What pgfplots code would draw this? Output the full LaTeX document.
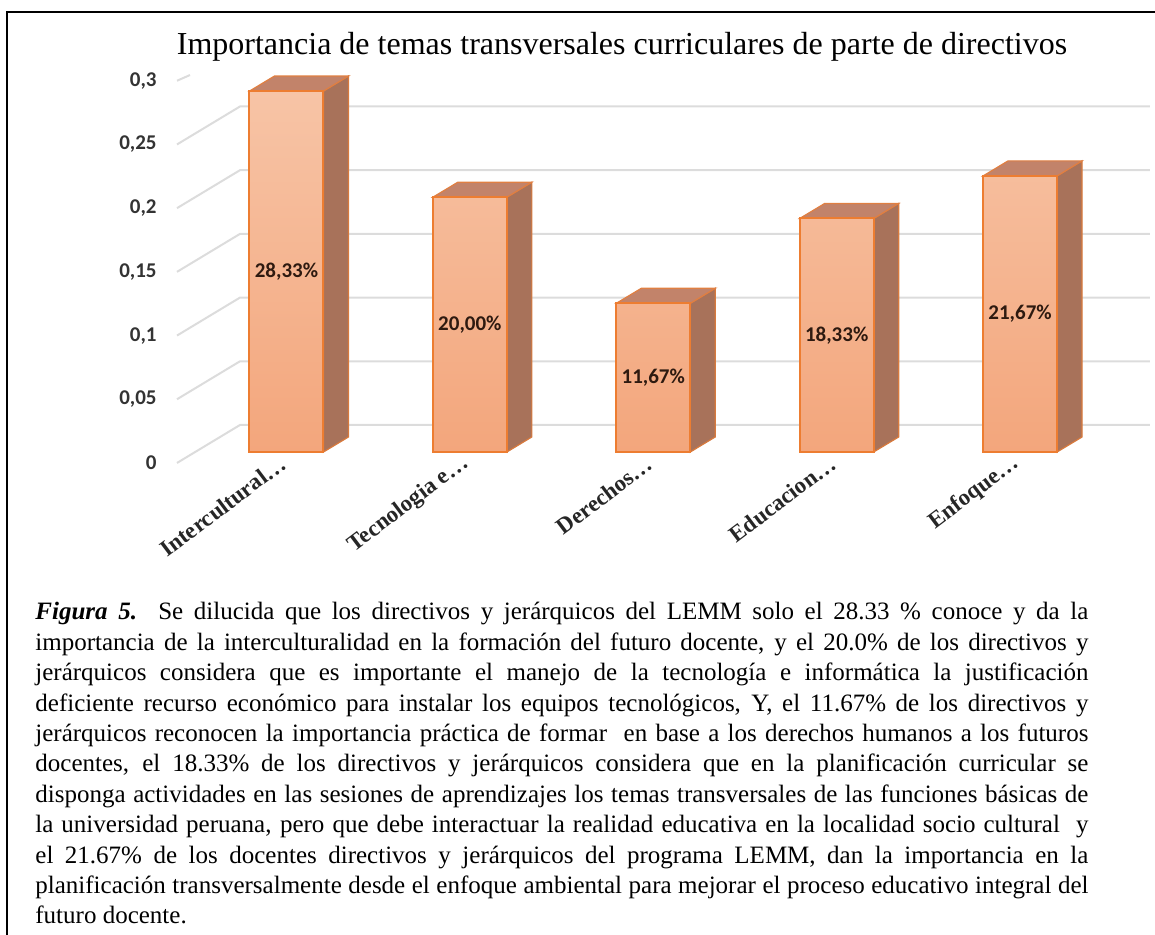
\documentclass[border=0pt]{standalone}
\usepackage{fontspec}
\setmainfont{Liberation Serif}
\newfontfamily\carlito{Carlito}
\usepackage{pgfplots}
\usepackage{pgfplotstable}
\pgfplotsset{compat=1.18}
\definecolor{edge}{HTML}{ED7D31}
\definecolor{fronttop}{HTML}{F7C4A6}
\definecolor{frontbot}{HTML}{F3A67C}
\definecolor{sidec}{HTML}{A8725A}
\definecolor{topc}{HTML}{C2836A}
\definecolor{gridc}{HTML}{DCDCDC}
\definecolor{lblc}{HTML}{2E1A10}

\pgfplotstableread{
x v lbl
0 0.2833 {28,33\%}
1 0.2000 {20,00\%}
2 0.1167 {11,67\%}
3 0.1833 {18,33\%}
4 0.2167 {21,67\%}
}\datatable

\begin{document}
\begin{tikzpicture}
\begin{axis}[
  at={(88.5pt,241.5pt)}, anchor=south west,
  scale only axis, width=486.46pt, height=191.1pt,
  xmin=-0.597, xmax=4.708, ymin=0, ymax=0.3,
  clip=false,
  axis line style={draw=none},
  major tick length=0pt,
  xtick={0,1,2,3,4},
  xticklabels={Intercultural\ldots,Tecnologia e\ldots,Derechos\ldots,Educacion\ldots,Enfoque\ldots},
  xticklabel style={rotate=37, anchor=east, inner sep=0pt, yshift=-2.5pt, xshift=-4pt,
    font=\fontsize{11.5}{13}\selectfont\bfseries, text=black!85},
  ytick={0,0.05,0.1,0.15,0.2,0.25,0.3},
  yticklabels={0,{0,05},{0,1},{0,15},{0,2},{0,25},{0,3}},
  yticklabel style={anchor=east, inner sep=0pt, xshift=-10pt, yshift=-5.5pt,
    font=\carlito\bfseries\fontsize{10.5}{12}\selectfont, text=black!80},
]
% back-wall grid lines
\addplot[gridc, line width=1pt] coordinates {(-0.597,-0.0086) (-0.2535,0.0212) (4.708,0.0212)};
\addplot[gridc, line width=1pt] coordinates {(-0.597,0.0414) (-0.2535,0.0712) (4.708,0.0712)};
\addplot[gridc, line width=1pt] coordinates {(-0.597,0.0914) (-0.2535,0.1212) (4.708,0.1212)};
\addplot[gridc, line width=1pt] coordinates {(-0.597,0.1414) (-0.2535,0.1712) (4.708,0.1712)};
\addplot[gridc, line width=1pt] coordinates {(-0.597,0.1914) (-0.2535,0.2212) (4.708,0.2212)};
\addplot[gridc, line width=1pt] coordinates {(-0.597,0.2414) (-0.2535,0.2712) (4.708,0.2712)};
\addplot[gridc, line width=1pt] coordinates {(-0.597,0.2914) (-0.526,0.2959)};
% side faces
\addplot[fill=sidec, draw=edge!70!sidec, line width=0.6pt] coordinates {(0.2017,0) (0.338,0.0118) (0.338,0.2951) (0.2017,0.2833)} -- cycle;
\addplot[fill=sidec, draw=edge!70!sidec, line width=0.6pt] coordinates {(1.2017,0) (1.338,0.0118) (1.338,0.2118) (1.2017,0.2000)} -- cycle;
\addplot[fill=sidec, draw=edge!70!sidec, line width=0.6pt] coordinates {(2.2017,0) (2.338,0.0118) (2.338,0.1285) (2.2017,0.1167)} -- cycle;
\addplot[fill=sidec, draw=edge!70!sidec, line width=0.6pt] coordinates {(3.2017,0) (3.338,0.0118) (3.338,0.1951) (3.2017,0.1833)} -- cycle;
\addplot[fill=sidec, draw=edge!70!sidec, line width=0.6pt] coordinates {(4.2017,0) (4.338,0.0118) (4.338,0.2285) (4.2017,0.2167)} -- cycle;
% top faces
\addplot[fill=topc, draw=edge!70!topc, line width=0.6pt] coordinates {(-0.2017,0.2833) (-0.0654,0.2951) (0.338,0.2951) (0.2017,0.2833)} -- cycle;
\addplot[fill=topc, draw=edge!70!topc, line width=0.6pt] coordinates {(0.7983,0.2000) (0.9346,0.2118) (1.338,0.2118) (1.2017,0.2000)} -- cycle;
\addplot[fill=topc, draw=edge!70!topc, line width=0.6pt] coordinates {(1.7983,0.1167) (1.9346,0.1285) (2.338,0.1285) (2.2017,0.1167)} -- cycle;
\addplot[fill=topc, draw=edge!70!topc, line width=0.6pt] coordinates {(2.7983,0.1833) (2.9346,0.1951) (3.338,0.1951) (3.2017,0.1833)} -- cycle;
\addplot[fill=topc, draw=edge!70!topc, line width=0.6pt] coordinates {(3.7983,0.2167) (3.9346,0.2285) (4.338,0.2285) (4.2017,0.2167)} -- cycle;
% front faces
\addplot[ybar, bar shift=0pt, bar width=0.4034, draw=edge, line width=1pt,
  top color=fronttop, bottom color=frontbot] table[x=x, y=v] \datatable;
% value labels
\addplot[draw=none, mark=none, nodes near coords, point meta=explicit symbolic,
  every node near coord/.style={anchor=center, inner sep=0pt,
    font=\carlito\bfseries\fontsize{10.5}{12}\selectfont, text=lblc}]
  table[x=x, y expr=\thisrow{v}/2, meta=lbl] \datatable;
\end{axis}
% title
\node[anchor=base, font=\fontsize{16}{18}\selectfont] at (311pt,440pt)
  {Importancia de temas transversales curriculares de parte de directivos};
% caption
\node[anchor=base west, inner sep=0pt, text width=526.5pt, align=justify,
  font=\fontsize{12.5}{15.2}\selectfont] at (17.5pt,157.5pt)
  {\textbf{\textit{Figura 5.}}\ \ Se dilucida que los directivos y jerárquicos del LEMM solo el 28.33 \% conoce y da la\linebreak
  importancia de la interculturalidad en la formación del futuro docente, y el 20.0\% de los directivos y\linebreak
  jerárquicos considera que es importante el manejo de la tecnología e informática la justificación\linebreak
  deficiente recurso económico para instalar los equipos tecnológicos, Y, el 11.67\% de los directivos y\linebreak
  jerárquicos reconocen la importancia práctica de formar\ \ en base a los derechos humanos a los futuros\linebreak
  docentes, el 18.33\% de los directivos y jerárquicos considera que en la planificación curricular se\linebreak
  disponga actividades en las sesiones de aprendizajes los temas transversales de las funciones básicas de\linebreak
  la universidad peruana, pero que debe interactuar la realidad educativa en la localidad socio cultural\ \ y\linebreak
  el 21.67\% de los docentes directivos y jerárquicos del programa LEMM, dan la importancia en la\linebreak
  planificación transversalmente desde el enfoque ambiental para mejorar el proceso educativo integral del\linebreak
  futuro docente.};
% frame
\draw[line width=1pt] (3.5pt,0pt) -- (3.5pt,461.5pt) -- (577.5pt,461.5pt);
\pgfresetboundingbox
\path[use as bounding box] (0,0) rectangle (577.5pt,467.5pt);
\end{tikzpicture}
\end{document}
